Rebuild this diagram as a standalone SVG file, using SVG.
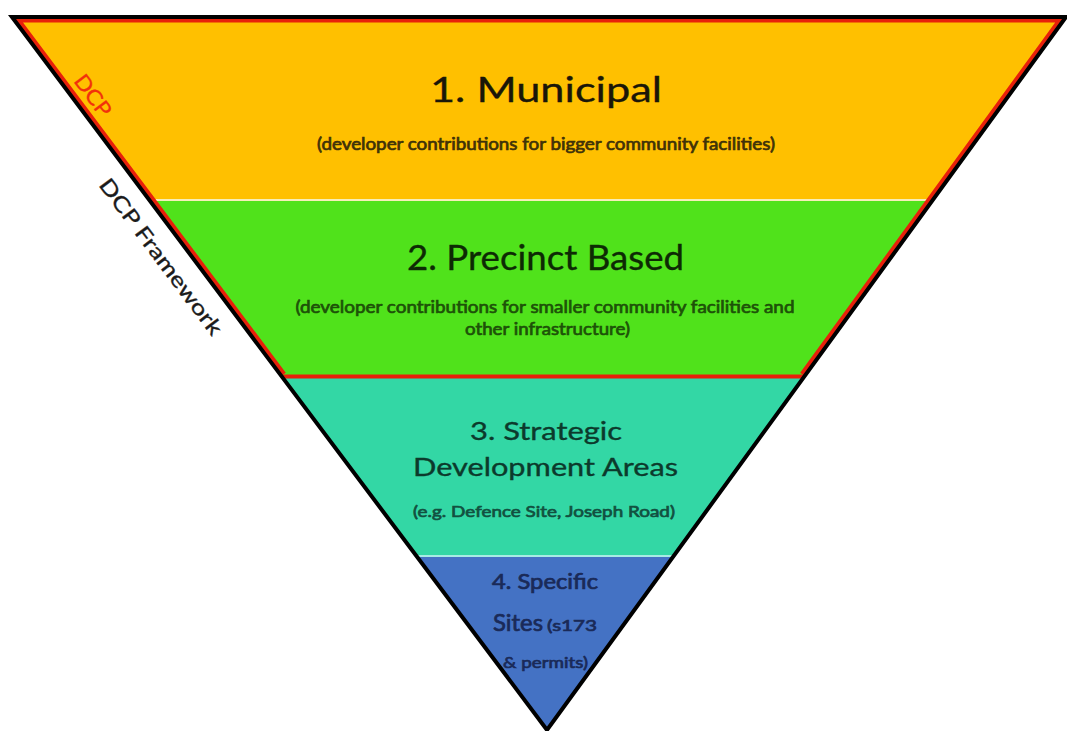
<svg xmlns="http://www.w3.org/2000/svg" width="1067" height="731" viewBox="0 0 1067 731">
  <style>
    text { font-family: Lato, "Open Sans", "Liberation Sans", sans-serif; }
    .c { text-anchor: middle; }
    .s { text-anchor: start; }
    .t { stroke-width: 0.35; }
    .sub { stroke-width: 0.7; }
    .band-sep { fill: none; stroke-width: 2; }
  </style>
  <defs>
    <clipPath id="tri">
      <polygon points="12,17 1066,17 547,730"/>
    </clipPath>
  </defs>
  <rect x="0" y="0" width="1067" height="731" fill="#ffffff"/>

  <g id="band-municipal">
    <polygon points="12,17 1066,17 932.8,200 149.3,200" fill="#FFC000"/>
    <text class="c t" x="546" y="102" font-size="35" fill="#1a1608" stroke="#1a1608" textLength="232" lengthAdjust="spacingAndGlyphs">1. Municipal</text>
    <text class="c sub" x="546" y="150" font-size="17" fill="#3f3208" stroke="#3f3208" textLength="458" lengthAdjust="spacingAndGlyphs">(developer contributions for bigger community facilities)</text>
  </g>

  <g id="band-precinct">
    <polygon points="149.3,200 932.8,200 804.6,376 281.4,376" fill="#50E21B"/>
    <text class="c t" x="545.5" y="270" font-size="35" fill="#0d2a04" stroke="#0d2a04" textLength="277" lengthAdjust="spacingAndGlyphs">2. Precinct Based</text>
    <text class="c sub" x="545" y="313" font-size="17" fill="#1d5208" stroke="#1d5208" textLength="499" lengthAdjust="spacingAndGlyphs">(developer contributions for smaller community facilities and</text>
    <text class="c sub" x="547.5" y="335" font-size="17" fill="#1d5208" stroke="#1d5208" textLength="165" lengthAdjust="spacingAndGlyphs">other infrastructure)</text>
  </g>

  <g id="band-strategic">
    <polygon points="281.4,376 804.6,376 673.6,556 416.5,556" fill="#33D7A5"/>
    <text class="c t" x="546" y="440" font-size="24.5" fill="#0c3a2c" stroke="#0c3a2c" textLength="152" lengthAdjust="spacingAndGlyphs">3. Strategic</text>
    <text class="c t" x="545.5" y="475.5" font-size="24.5" fill="#0c3a2c" stroke="#0c3a2c" textLength="265" lengthAdjust="spacingAndGlyphs">Development Areas</text>
    <text class="c sub" x="544" y="516.5" font-size="16" fill="#125040" stroke="#125040" textLength="262" lengthAdjust="spacingAndGlyphs">(e.g. Defence Site, Joseph Road)</text>
  </g>

  <g id="band-specific">
    <polygon points="416.5,556 673.6,556 547,730" fill="#4472C4"/>
    <text class="c sub" x="545" y="589" font-size="21" fill="#1a2a58" stroke="#1a2a58" textLength="106" lengthAdjust="spacingAndGlyphs">4. Specific</text>
    <text class="s sub" x="493" y="631" font-size="23" fill="#1a2a58" stroke="#1a2a58" textLength="50" lengthAdjust="spacingAndGlyphs">Sites</text>
    <text class="s sub" x="547" y="631" font-size="16" fill="#1a2a58" stroke="#1a2a58" textLength="50" lengthAdjust="spacingAndGlyphs">(s173</text>
    <text class="c sub" x="545.5" y="668" font-size="16" fill="#1a2a58" stroke="#1a2a58" textLength="85" lengthAdjust="spacingAndGlyphs">&amp; permits)</text>
  </g>

  <g id="outlines">
    <g clip-path="url(#tri)">
      <line class="band-sep" x1="140" y1="200" x2="940" y2="200" stroke="#F6EEB8"/>
      <line class="band-sep" x1="410" y1="556" x2="680" y2="556" stroke="#A6ECE4"/>
      <path d="M281.4,376 L12,17 L1066,17 L804.6,376" fill="none" stroke="#E8200A" stroke-width="11" stroke-linejoin="miter"/>
      <line x1="275" y1="376.5" x2="810" y2="376.5" stroke="#E8200A" stroke-width="4"/>
    </g>
    <polygon points="12,17 1066,17 547,730" fill="none" stroke="#000000" stroke-width="4" stroke-linejoin="miter"/>
  </g>

  <g id="label-dcp">
    <text class="s t" transform="translate(73,81) rotate(53.13)" font-size="21" fill="#F2300C" stroke="#F2300C" textLength="47" lengthAdjust="spacingAndGlyphs">DCP</text>
  </g>
  <g id="label-dcp-framework">
    <text class="s t" transform="translate(98,185) rotate(53.13)" font-size="21" fill="#1a1a1a" stroke="#1a1a1a" textLength="190" lengthAdjust="spacingAndGlyphs">DCP Framework</text>
  </g>
</svg>
